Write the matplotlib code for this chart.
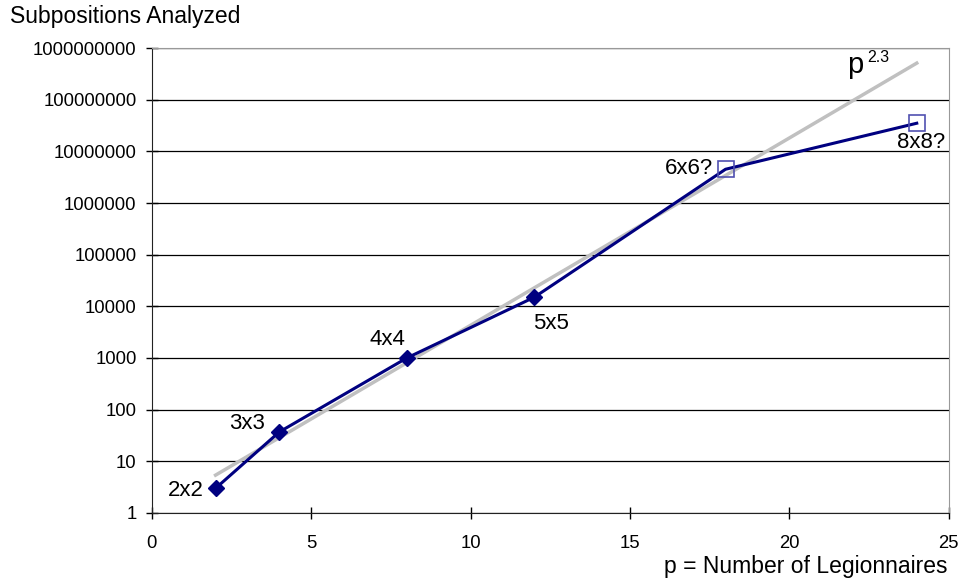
import matplotlib as mpl
mpl.use('Agg')
import matplotlib.pyplot as plt

plt.rcParams['font.family'] = ['Liberation Sans', 'DejaVu Sans']

# measured points
p_solved = [2, 4, 8, 12]
n_solved = [3, 37, 1000, 15000]
lbl_solved = ['2x2', '3x3', '4x4', '5x5']
p_guess = [18, 24]
n_guess = [4.5e6, 3.5e7]
lbl_guess = ['6x6?', '8x8?']
# trend line end points
p_trend = [2, 24]
n_trend = [5.4, 5.1e8]

yticks = [10 ** k for k in range(10)]
xticks = [0, 5, 10, 15, 20, 25]

fig = plt.figure(figsize=(9.67, 5.82), dpi=100)
ax = fig.add_axes([0.157, 0.1186, 0.824, 0.7989])

ax.plot(p_trend, n_trend, color='#c0c0c0', lw=2.5, zorder=2)
ax.plot(p_solved + p_guess, n_solved + n_guess, color='#000080', lw=2.2, zorder=3)
ax.plot(p_solved, n_solved, ls='none', marker='D', ms=8, color='#000080', zorder=4)
ax.plot(p_guess, n_guess, ls='none', marker='s', ms=12, mfc='none', mec='#5050b0', mew=1.2, zorder=4)

ax.set_yscale('log')
ax.set_ylim(1, 1e9)
ax.set_xlim(0, 25)
ax.set_yticks(yticks)
ax.set_yticklabels([str(v) for v in yticks])
ax.minorticks_off()
ax.set_xticks(xticks)
ax.tick_params(axis='both', direction='inout', length=8, width=1, labelsize=13.3)
ax.tick_params(axis='y', pad=7)
ax.tick_params(axis='x', pad=12)
ax.grid(True, axis='y', color='black', lw=0.9)
ax.set_axisbelow(True)

for s in ['left', 'bottom']:
    ax.spines[s].set_color('#222222')
for s in ['right', 'top']:
    ax.spines[s].set_color('#999999')

offsets = [(-30, -2), (-32, 8), (-19, 18), (17, -26), (-37, 1), (4, -19)]
for x, y, t, off in zip(p_solved + p_guess, n_solved + n_guess, lbl_solved + lbl_guess, offsets):
    ax.annotate(t, (x, y), xytext=off, textcoords='offset pixels', ha='center', va='center', fontsize=16)

ax.annotate('p', (p_trend[1], n_trend[1]), xytext=(-62, -2), textcoords='offset pixels',
            ha='center', va='center', fontsize=21)
ax.annotate('2.3', (p_trend[1], n_trend[1]), xytext=(-38, 6), textcoords='offset pixels',
            ha='center', va='center', fontsize=11.5)

fig.text(10 / 967, 1 - 16 / 582, 'Subpositions Analyzed', fontsize=16.5, ha='left', va='center')
fig.text(948 / 967, 1 - 567 / 582, 'p = Number of Legionnaires', fontsize=16.5, ha='right', va='center')

fig.savefig('out.png', dpi=100)
